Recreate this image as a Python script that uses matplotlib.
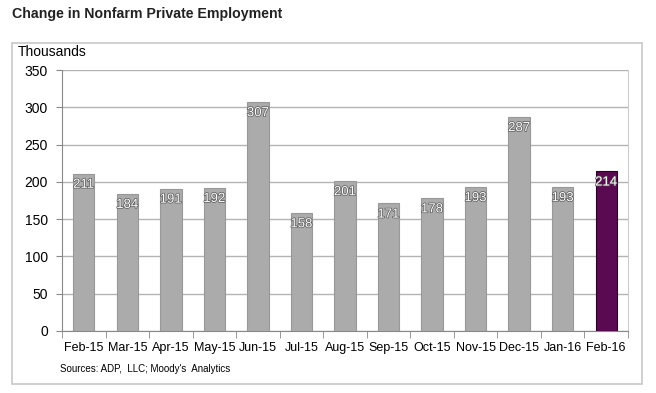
import matplotlib.pyplot as plt
import matplotlib.patheffects as pe
from matplotlib.patches import Rectangle
import numpy as np

plt.rcParams['font.family'] = ['Liberation Sans', 'DejaVu Sans']

months = ['Feb-15', 'Mar-15', 'Apr-15', 'May-15', 'Jun-15', 'Jul-15', 'Aug-15',
          'Sep-15', 'Oct-15', 'Nov-15', 'Dec-15', 'Jan-16', 'Feb-16']
jobs = [211, 184, 191, 192, 307, 158, 201, 171, 178, 193, 287, 193, 214]
yticks = [0, 50, 100, 150, 200, 250, 300, 350]

fig = plt.figure(figsize=(6.56, 3.93), dpi=100)

# outer frame around the chart
fig.patches.append(Rectangle((12 / 656, 1 - 384 / 393), 630 / 656, 341 / 393,
                             transform=fig.transFigure, fill=False,
                             edgecolor='#c8c8c8', linewidth=1.2))

ax = fig.add_axes([62 / 656, 1 - 331 / 393, 566 / 656, 261 / 393])

x = np.arange(len(months))
colors = ['#ababab'] * (len(months) - 1) + ['#5a0a50']
edges = ['#989898'] * (len(months) - 1) + ['#2a0025']
bars = ax.bar(x, jobs, width=0.49, color=colors, edgecolor=edges, linewidth=0.8, zorder=3)

for xi, v in zip(x, jobs):
    ax.annotate(str(v), (xi, v), xytext=(0, -8), textcoords='offset points',
                ha='center', va='center', fontsize=9.5, color='white', zorder=4,
                path_effects=[pe.withStroke(linewidth=1.0, foreground='#555555')])

ax.set_xlim(-0.5, len(months) - 0.5)
ax.set_ylim(0, 350)
ax.set_yticks(yticks)
ax.tick_params(axis='y', labelsize=10, length=4, color='#888888', direction='out', pad=6)
ax.grid(axis='y', color='#b4b4b4', linewidth=1, zorder=0)

ax.set_xticks(x)
ax.set_xticklabels(months, fontsize=9)
ax.set_xticks(np.arange(len(months) + 1) - 0.5, minor=True)
ax.tick_params(axis='x', which='major', length=0, pad=8)
ax.tick_params(axis='x', which='minor', length=5, color='#888888', direction='out')

ax.spines['top'].set_visible(False)
ax.spines['right'].set_color('#cccccc')
ax.spines['left'].set_color('#888888')
ax.spines['bottom'].set_color('#888888')

fig.text(12 / 656, 1 - 14 / 393, 'Change in Nonfarm Private Employment',
         fontsize=10.2, fontweight='bold', color='#222222', va='center')
fig.text(18 / 656, 1 - 52 / 393, 'Thousands', fontsize=10, va='center')
fig.text(60 / 656, 1 - 369 / 393, "Sources: ADP,  LLC; Moody's  Analytics",
         fontsize=7, va='center')

fig.savefig('out.png', dpi=100)
